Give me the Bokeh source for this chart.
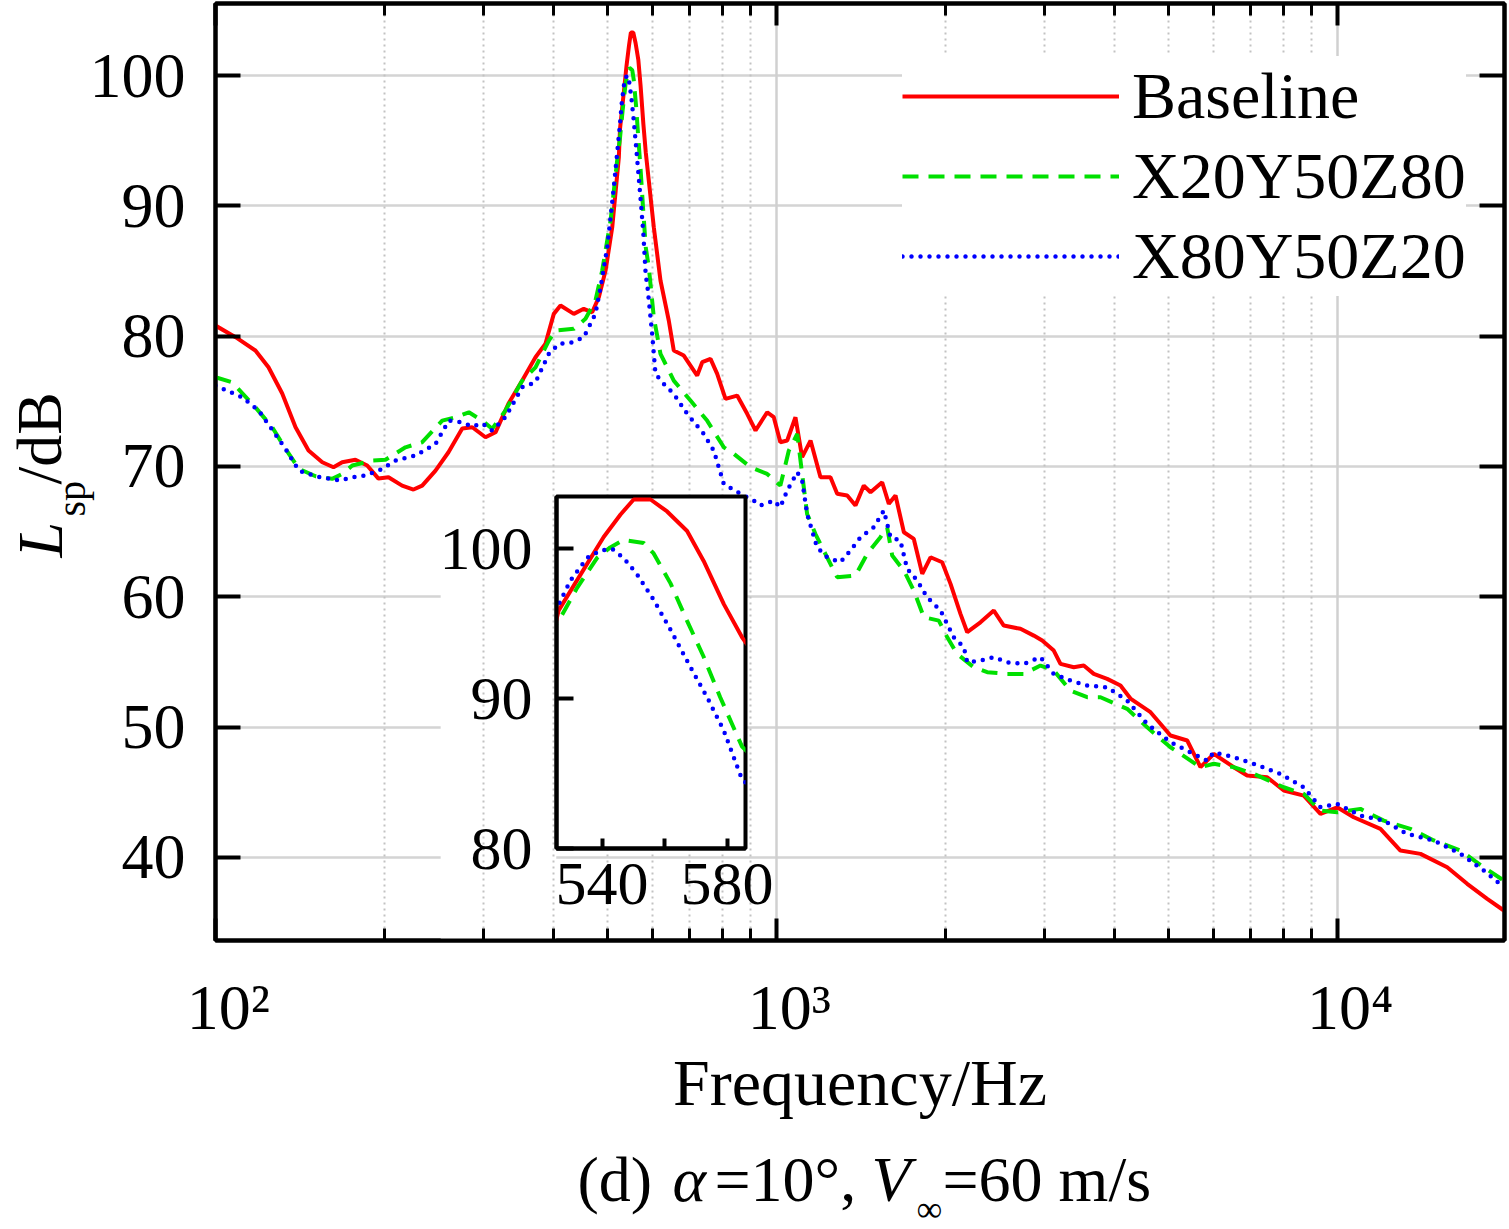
import math
from bokeh.plotting import figure
from bokeh.models import (ColumnDataSource, Range1d, FixedTicker, LogAxis, LinearAxis,
                          Legend, LegendItem, Label, BoxAnnotation)
from bokeh.layouts import column
from bokeh.embed import file_html
from bokeh.resources import INLINE

FONT = "Liberation Serif"

# ---------------- data ----------------
series_names = ["Baseline", "X20Y50Z80", "X80Y50Z20"]

red_freq = [100, 108.6, 117.8, 124.3, 131.5, 138.9, 146.5, 155.0, 162.3, 168.2,
            177.6, 186.4, 195.2, 203.4, 215.1, 225.4, 233.6, 246.7, 260.2, 275.3,
            286.9, 302.9, 315.6, 332.9, 352.2, 371.9, 387.5, 400.9, 412.1, 435.2,
            453.4, 469.3, 482.3, 495.8, 509.6, 523.6,
            526.1, 529.9, 535.2, 540.5, 545.9, 550.1, 555.5, 560.8, 567.2, 572.5, 579.0, 584.8,
            604.4, 621.2, 642.7, 656.0, 683.6, 722.2, 737.3, 762.8, 784.0, 811.2,
            851.0, 886.7, 917.6, 962.5, 989.0, 1016, 1045, 1081, 1111, 1150,
            1198, 1248, 1283, 1337, 1383, 1431, 1471, 1543, 1586, 1630,
            1687, 1757, 1819, 1882, 1974, 2043, 2128, 2188, 2310, 2440,
            2542, 2722, 2875, 2976, 3121, 3208, 3388, 3530, 3678, 3886,
            4104, 4276, 4642, 5039, 5397, 5700, 6020, 6534, 6902, 7494,
            8022, 8709, 9326, 9988, 10690, 11930, 12950, 14060, 15690, 17030,
            18490, 19800]
red_db = [80.81, 79.92, 78.90, 77.61, 75.60, 73.01, 71.22, 70.32, 69.94, 70.32,
          70.51, 70.07, 69.07, 69.17, 68.53, 68.23, 68.53, 69.68, 71.09, 72.91,
          73.01, 72.24, 72.62, 74.83, 76.59, 78.38, 79.43, 81.71, 82.35, 81.71,
          82.10, 81.83, 82.99, 85.03, 88.36, 93.73,
          95.9, 97.2, 99.0, 100.8, 102.3, 103.3, 103.3, 102.5, 101.2, 99.2, 96.3, 94.1,
          88.36, 84.27, 81.20, 78.90, 78.51, 76.98, 78.00, 78.26, 77.11, 75.19,
          75.44, 74.04, 72.76, 74.16, 73.78, 71.86, 71.99, 73.78, 70.71, 71.99,
          69.17, 69.17, 67.90, 67.77, 67.00, 68.53, 68.02, 68.79, 67.13, 67.77,
          64.95, 64.44, 61.76, 63.03, 62.65, 60.99, 58.69, 57.28, 58.04, 58.94,
          57.79, 57.54, 57.02, 56.64, 55.87, 54.85, 54.59, 54.72, 54.08, 53.70,
          53.19, 52.19, 51.14, 49.35, 48.97, 46.92, 47.94, 46.92, 46.28, 46.15,
          45.13, 44.74, 43.34, 43.84, 43.08, 42.19, 40.52, 40.27, 39.24, 37.97,
          36.82, 35.92]

green_freq = [100, 107.1, 117.8, 126.2, 133.3, 140.8, 150.8, 161.4, 168.2, 175.3,
              190.2, 200.9, 218.1, 233.6, 253.6, 267.8, 282.9, 298.8, 311.3, 328.7,
              352.2, 371.9, 392.8, 403.7, 435.2, 456.6, 475.6, 489.0, 506.1, 520.0,
              526.1, 532.0, 538.4, 542.6, 546.9, 553.3, 556.5, 561.9, 567.2, 572.5, 577.8, 584.8,
              592.1, 604.4, 621.2, 656.0, 702.6, 752.2, 805.6, 839.3, 899.0, 962.5,
              1016, 1052, 1089, 1111, 1134, 1173, 1231, 1283, 1383, 1451,
              1532, 1575, 1608, 1687, 1757, 1831, 1947, 2016, 2099, 2247,
              2375, 2577, 2759, 2955, 3121, 3342, 3580, 3781, 4218, 4579,
              5039, 5700, 6020, 6534, 7093, 8022, 8709, 9326, 9988, 10990,
              12090, 13490, 14850, 16570, 18230, 19800]
green_db = [76.85, 76.46, 74.54, 73.01, 71.35, 69.82, 69.25, 69.05, 69.43, 70.07,
            70.45, 70.51, 71.47, 71.86, 73.52, 73.78, 74.16, 73.52, 72.89, 74.29,
            76.59, 77.61, 79.66, 80.43, 80.56, 81.33, 82.73, 85.03, 88.87, 93.48,
            95.2, 97.4, 99.4, 100.1, 100.6, 100.4, 99.7, 97.7, 95.2, 92.8, 90.1, 86.8,
            85.29, 81.45, 78.64, 76.59, 75.06, 73.52, 71.47, 70.97, 69.94, 69.43,
            68.53, 71.22, 72.50, 69.43, 66.36, 64.83, 63.03, 61.50, 61.63, 63.29,
            64.57, 65.33, 63.16, 62.01, 60.48, 58.43, 58.17, 56.89, 55.62, 54.59,
            54.21, 54.08, 54.08, 54.72, 54.34, 52.80, 52.29, 52.29, 51.40, 49.98,
            48.45, 46.92, 47.18, 46.92, 46.41, 45.38, 44.87, 43.59, 43.46, 43.72,
            42.82, 42.19, 41.30, 40.52, 39.24, 38.22]

blue_freq = [100, 111.6, 119.4, 125.3, 133.3, 140.8, 150.8, 160.3, 167.1, 175.3,
             182.6, 195.5, 209.4, 227.3, 246.7, 260.6, 275.3, 286.9, 298.8, 311.3,
             328.7, 352.2, 371.9, 392.8, 409.3, 432.4, 453.4, 475.6, 485.8, 499.3,
             512.9,
             526.1, 529.9, 535.2, 539.5, 543.2, 546.9, 551.2, 556.5, 561.9, 568.3, 573.6, 578.9, 584.8,
             588.2, 600.3, 608.5, 629.7, 656.0, 693.1, 741.9, 773.0, 805.6, 862.7,
             911.1, 936.5, 989.0, 1016, 1045, 1089, 1111, 1134, 1181, 1231,
             1300, 1355, 1412, 1491, 1554, 1597, 1663, 1710, 1782, 1856,
             1961, 2070, 2158, 2188, 2310, 2440, 2577, 2759, 2955, 3121,
             3342, 3580, 3886, 4218, 4579, 5039, 5544, 5858, 6020, 6534,
             7093, 7913, 8709, 9326, 9988, 10990, 12090, 13310, 14850, 16570,
             18230, 19800]
blue_db = [76.21, 75.31, 74.29, 73.01, 71.35, 69.68, 69.25, 69.05, 68.92, 69.17,
           69.25, 69.68, 70.45, 70.84, 71.73, 73.52, 73.39, 73.06, 73.31, 72.76,
           73.78, 76.08, 76.46, 78.64, 79.41, 79.53, 79.92, 81.71, 83.75, 86.82,
           91.43,
           96.3, 97.9, 99.4, 99.9, 100.0, 99.4, 98.3, 96.6, 94.6, 92.1, 90.1, 87.9, 84.6,
           84.01, 80.18, 77.11, 76.34, 75.57, 74.04, 72.50, 71.22, 68.66, 67.90,
           67.38, 67.00, 67.38, 66.87, 68.15, 69.56, 68.92, 66.36, 63.80, 63.03,
           62.65, 63.55, 64.57, 65.33, 66.62, 64.57, 64.31, 62.14, 61.24, 59.96,
           58.94, 56.89, 56.12, 54.97, 55.10, 55.36, 54.97, 54.85, 55.36, 54.08,
           53.57, 53.19, 53.05, 52.03, 50.25, 48.83, 47.94, 47.43, 48.07, 47.68,
           47.18, 46.41, 45.38, 43.85, 44.11, 43.21, 42.82, 41.80, 41.29, 40.27,
           38.99, 37.71]

x_major = [100, 1000, 10000]
x_minor = [200, 300, 400, 500, 600, 700, 800, 900,
           2000, 3000, 4000, 5000, 6000, 7000, 8000, 9000]
x_tick_labels = {100: "\u2009\u200910\u00b2", 1000: "\u2009\u200910\u00b3",
                 10000: "\u2009\u200910\u2074"}
y_major = [40, 50, 60, 70, 80, 90, 100]

inset_x_ticks = [540, 560, 580]
inset_x_labels = {540: "540", 560: "", 580: "580"}
inset_y_ticks = [80, 90, 100]

X_RANGE = (100, 19850)
Y_RANGE = (33.62, 105.53)
INSET_X = (525.4, 585.9)
INSET_Y = (80, 103.5)

RED, GREEN, BLUE = "#ff0000", "#00e000", "#0000ff"

sources = [ColumnDataSource(dict(f=red_freq, L=red_db)),
           ColumnDataSource(dict(f=green_freq, L=green_db)),
           ColumnDataSource(dict(f=blue_freq, L=blue_db))]
styles = [dict(line_color=RED, line_width=4),
          dict(line_color=GREEN, line_width=4, line_dash="16 10"),
          dict(line_color=BLUE, line_width=4.5, line_dash="0 9", line_cap="round")]


def no_align(fig):
    try:
        fig.frame_align = False
    except AttributeError:
        pass


def style_axis(ax, tick_in, minor_in=0, size="64px", standoff=0, show_labels=True):
    ax.axis_line_color = "black"
    ax.axis_line_width = 4
    ax.major_tick_in = tick_in
    ax.major_tick_out = 0
    ax.major_tick_line_width = 4
    ax.major_tick_line_color = "black"
    if minor_in:
        ax.minor_tick_in = minor_in
        ax.minor_tick_out = 0
        ax.minor_tick_line_width = 3
        ax.minor_tick_line_color = "black"
    else:
        ax.minor_tick_line_color = None
    ax.major_label_text_font = FONT
    ax.major_label_text_color = "black"
    ax.major_label_standoff = standoff
    ax.major_label_text_font_size = size if show_labels else "1px"


# ---------------- main figure ----------------
p = figure(width=1509, height=1229, x_axis_type="log",
           x_range=Range1d(*X_RANGE), y_range=Range1d(*Y_RANGE),
           output_backend="svg", toolbar_location=None,
           min_border_left=215, min_border_right=5, min_border_top=3, min_border_bottom=289,
           background_fill_color="white", border_fill_color="white")
no_align(p)
p.outline_line_color = "black"
p.outline_line_width = 4
p.outline_line_alpha = 1

xticker = FixedTicker(ticks=x_major, minor_ticks=x_minor)
yticker = FixedTicker(ticks=y_major, minor_ticks=[])

xb = p.below[0]
xb.ticker = xticker
xb.major_label_overrides = x_tick_labels
style_axis(xb, 22, 12, "64px", 31)
xb.axis_label = "Frequency/Hz"
xb.axis_label_text_font = FONT
xb.axis_label_text_font_size = "66px"
xb.axis_label_text_font_style = "normal"
xb.axis_label_text_color = "black"
xb.axis_label_standoff = 0

yl = p.left[0]
yl.ticker = yticker
style_axis(yl, 25, 0, "64px", 30)

xt = LogAxis(ticker=xticker)
style_axis(xt, 22, 12, show_labels=False)
xt.major_label_overrides = {100: "", 1000: "", 10000: ""}
xt.level = "overlay"
p.add_layout(xt, "above")

yr = LinearAxis(ticker=yticker)
style_axis(yr, 25, 0, show_labels=False)
yr.major_label_overrides = {v: "" for v in y_major}
yr.level = "overlay"
p.add_layout(yr, "right")

xg = p.xgrid[0]
yg = p.ygrid[0]
xg.ticker = xticker
xg.grid_line_color = "#d0d0d0"
xg.grid_line_width = 2.5
xg.minor_grid_line_color = "#c2c2c2"
xg.minor_grid_line_width = 2
xg.minor_grid_line_dash = "2 4"
yg.ticker = yticker
yg.grid_line_color = "#d4d4d4"
yg.grid_line_width = 2.5

mask = BoxAnnotation(left=252, right=405, top=67.4, bottom=Y_RANGE[0],
                     fill_color="white", fill_alpha=1, line_color=None, level="underlay")
p.center = [yg, mask, xg]

renderers = []
for src, st in zip(sources, styles):
    renderers.append(p.line("f", "L", source=src, **st))

legend = Legend(items=[LegendItem(label=n, renderers=[r]) for n, r in zip(series_names, renderers)],
                location=(687, 644),
                label_text_font=FONT, label_text_font_size="66px", label_text_color="black",
                glyph_width=217, glyph_height=80, label_height=80, label_standoff=13,
                spacing=0, padding=20, margin=0,
                border_line_color=None, background_fill_color="white", background_fill_alpha=1)
p.add_layout(legend)


# ---------------- text canvases (caption and y title) ----------------
def text_canvas(w, h):
    c = figure(width=w, height=h, x_range=Range1d(0, w), y_range=Range1d(0, h),
               title=None, output_backend="svg", toolbar_location=None,
               x_axis_location=None, y_axis_location=None,
               min_border=0, min_border_left=0, min_border_right=0,
               min_border_top=0, min_border_bottom=0,
               outline_line_color=None, background_fill_color=None, border_fill_color=None)
    c.grid.visible = False
    no_align(c)
    return c


cap = text_canvas(800, 200)           # page x 400..1200, y 1029..1229 (transparent)
caption_parts = [("(d)", 177, 50, "64px", "normal"),
                 ("\u03b1", 272, 50, "64px", "italic"),
                 ("=10\u00b0,", 314, 50, "64px", "normal"),
                 ("V", 471, 50, "64px", "italic"),
                 ("\u221e", 516, 21, "36px", "normal"),
                 ("=60 m/s", 542, 50, "64px", "normal")]
for txt, cx, cy, fs, fst in caption_parts:
    cap.add_layout(Label(x=cx, y=cy, text=txt, text_font=FONT, text_font_size=fs,
                         text_font_style=fst, text_align="left",
                         text_baseline="alphabetic", text_color="black"))
cap.margin = (-200, 0, 0, 400)        # 1229 - 200 = 1029

yt = text_canvas(120, 260)            # page x 0..120, y 340..600
ytitle_parts = [("L", 40, 43, "64px", "italic"),
                ("sp", 71, 84, "40px", "normal"),
                ("/dB", 39, 116, "64px", "normal")]
for txt, tx, ty, fs, fst in ytitle_parts:
    yt.add_layout(Label(x=tx, y=ty, text=txt, angle=math.pi / 2, text_font=FONT,
                        text_font_size=fs, text_font_style=fst, text_align="left",
                        text_baseline="alphabetic", text_color="black"))
yt.margin = (-889, 0, 0, 0)           # 1229 - 889 = 340 ; ends at 600

# ---------------- inset ----------------
q = figure(frame_width=189, frame_height=352,
           x_range=Range1d(*INSET_X), y_range=Range1d(*INSET_Y),
           output_backend="svg", toolbar_location=None,
           min_border_left=125, min_border_right=32, min_border_top=4, min_border_bottom=90,
           border_fill_color=None, background_fill_color="white")
no_align(q)
q.outline_line_color = "black"
q.outline_line_width = 4
q.outline_line_alpha = 1
q.grid.visible = False
qx = q.xaxis[0]
qx.ticker = FixedTicker(ticks=inset_x_ticks, minor_ticks=[])
qx.major_label_overrides = inset_x_labels
style_axis(qx, 10, 0, "62px", 15)
qy = q.yaxis[0]
qy.ticker = FixedTicker(ticks=inset_y_ticks, minor_ticks=[])
style_axis(qy, 17, 0, "62px", 24)
for src, st in zip(sources, styles):
    q.line("f", "L", source=src, **st)
q.margin = (-108, 0, 0, 431)          # 600 - 108 = 492 -> frame at page (556, 496)

layout = column(p, cap, yt, q)
open("out.html", "w").write(file_html(layout, INLINE))
